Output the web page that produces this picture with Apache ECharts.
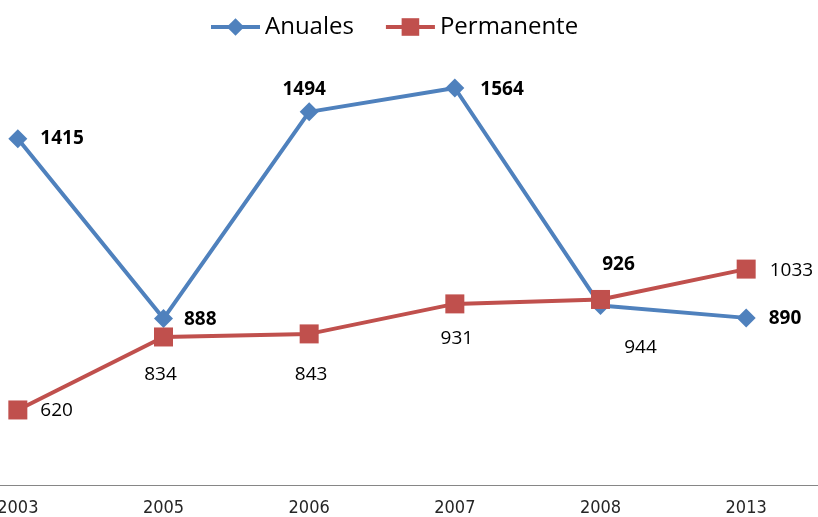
<!DOCTYPE html>
<html>
<head>
<meta charset="utf-8">
<script src="https://cdn.jsdelivr.net/npm/echarts@6/dist/echarts.min.js"></script>
<style>
html,body{margin:0;padding:0;background:#fff;}
#chart{width:818px;height:517px;}
</style>
</head>
<body>
<div id="chart"></div>
<script>
var categories = ['2003', '2005', '2006', '2007', '2008', '2013'];
var anuales = [1415, 888, 1494, 1564, 926, 890];
var permanente = [620, 834, 843, 931, 944, 1033];

// label placement (style only)
var anualesLabelPos = [
  {position: 'right', distance: 13, offset: [0, 0]},
  {position: 'right', distance: 11, offset: [0, 1]},
  {position: 'top', distance: 3, offset: [-5, 0]},
  {position: 'right', distance: 16, offset: [0, 2]},
  {position: 'top', distance: 5, offset: [18, -17]},
  {position: 'right', distance: 13, offset: [0, 1]}
];
var permanenteLabelPos = [
  {position: 'right', distance: 13, offset: [0, 1]},
  {position: 'bottom', distance: 19, offset: [-3, 0]},
  {position: 'bottom', distance: 22, offset: [2, 0]},
  {position: 'bottom', distance: 16, offset: [2, 0]},
  {position: 'bottom', distance: 5, offset: [40, 24]},
  {position: 'right', distance: 14, offset: [0, 1]}
];

function build(values, pos) {
  return values.map(function (v, i) {
    return {value: v, label: pos[i]};
  });
}

var chart = echarts.init(document.getElementById('chart'), null, {renderer: 'canvas'});
chart.setOption({
  animation: false,
  backgroundColor: '#ffffff',
  legend: {
    left: 204,
    top: 10,
    itemWidth: 49,
    itemHeight: 22,
    itemGap: 30,
    lineStyle: {width: 4},
    textStyle: {fontFamily: 'Open Sans', fontSize: 24, color: '#000000'},
    data: ['Anuales', 'Permanente']
  },
  grid: {left: -55, right: -1, top: 7.5, bottom: 32, containLabel: false, outerBoundsMode: 'none'},
  xAxis: {
    type: 'category',
    data: categories,
    boundaryGap: true,
    axisLine: {show: true, lineStyle: {color: '#868686', width: 1}},
    axisTick: {show: false},
    axisLabel: {
      margin: 14,
      fontFamily: "'Liberation Sans Narrow', 'DejaVu Sans Condensed', sans-serif",
      fontSize: 18,
      color: '#262626'
    },
    splitLine: {show: false}
  },
  yAxis: {
    type: 'value',
    min: 400,
    max: 1800,
    show: false,
    splitLine: {show: false}
  },
  series: [
    {
      name: 'Anuales',
      type: 'line',
      data: build(anuales, anualesLabelPos),
      symbol: 'diamond',
      symbolSize: 19,
      lineStyle: {color: '#4F81BD', width: 4},
      itemStyle: {color: '#4F81BD'},
      label: {
        show: true,
        fontFamily: 'Open Sans',
        fontWeight: 'bold',
        fontSize: 19,
        color: '#000000'
      },
      z: 2
    },
    {
      name: 'Permanente',
      type: 'line',
      data: build(permanente, permanenteLabelPos),
      symbol: 'rect',
      symbolSize: 19,
      lineStyle: {color: '#C0504D', width: 4},
      itemStyle: {color: '#C0504D'},
      label: {
        show: true,
        fontFamily: 'Open Sans',
        fontSize: 19,
        color: '#000000'
      },
      z: 3
    }
  ]
});
</script>
</body>
</html>
